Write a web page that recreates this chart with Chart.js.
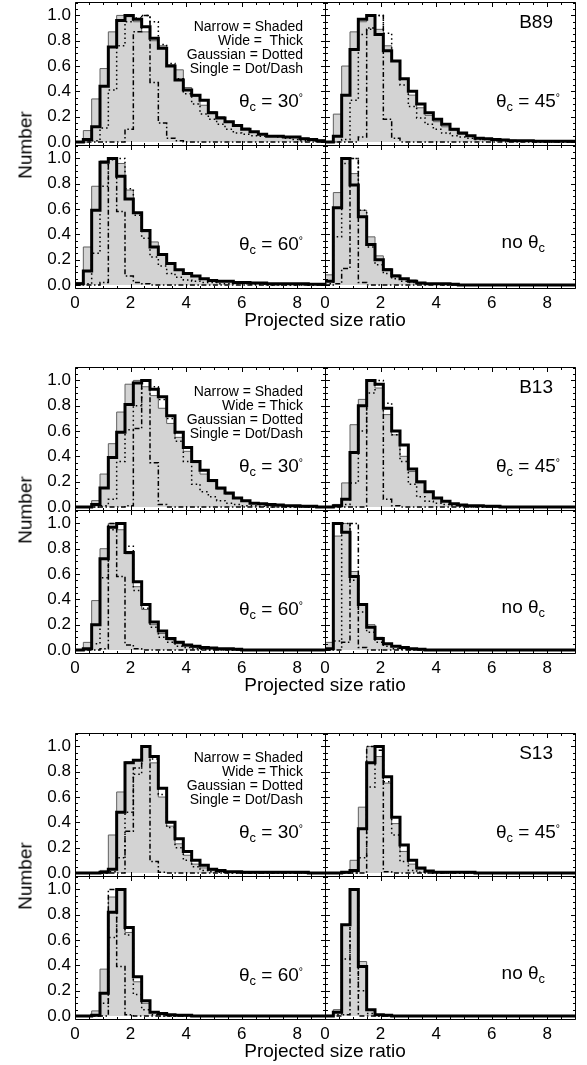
<!DOCTYPE html>
<html><head><meta charset="utf-8">
<script src="https://cdn.jsdelivr.net/npm/chart.js@4.4.1/dist/chart.umd.min.js"></script>
<style>
html,body{margin:0;padding:0;background:#fff;}
#wrap{position:relative;width:587px;height:1065px;overflow:hidden;background:#fff;font-family:"Liberation Sans",Arial,Helvetica,sans-serif;color:#000;}
#wrap canvas{position:absolute;}
.t{position:absolute;white-space:pre;line-height:1;color:#000;}
.t .sb{position:relative;top:0.3em;font-size:0.68em;}
.t .sp{position:relative;top:-0.55em;font-size:0.55em;}
</style></head><body><div id="wrap"></div>
<script>
// ---------------- data ----------------
const binEdges = [0.0,0.3,0.6,0.9,1.2,1.5,1.8,2.1,2.4,2.7,3.0,3.3,3.6,3.9,4.2,4.5,4.8,5.1,5.4,5.7,6.0,6.3,6.6,6.9,7.2,7.5,7.8,8.1,8.4,8.7,9.0];
const xTickValues = [0,2,4,6,8];
const yTickValues = [0.0,0.2,0.4,0.6,0.8,1.0];
const modelNames = ['B89','B13','S13'];
const legendLines = [
  ['Narrow = Shaded','Wide =  Thick','Gaussian = Dotted','Single = Dot/Dash'],
  ['Narrow = Shaded','Wide = Thick','Gaussian = Dotted','Single = Dot/Dash'],
  ['Narrow = Shaded','Wide = Thick','Gaussian = Dotted','Single = Dot/Dash']
];
const angleLabels = ['30','45','60',null];

// B89
const b89_30_narrow = [0,0.09,0.34,0.58,0.87,1.0,0.99,0.95,0.87,0.80, 0.76,0.61,0.57,0.43,0.36,0.29,0.24,0.20,0.16,0.13, 0.11,0.08,0.06,0.05,0.05,0.04,0.04,0.03,0.02,0.015];
const b89_30_wide   = [0,0.02,0.12,0.44,0.75,0.96,1.0,0.97,0.91,0.82, 0.74,0.60,0.49,0.41,0.37,0.33,0.23,0.19,0.16,0.13, 0.10,0.08,0.06,0.045,0.045,0.04,0.04,0.025,0.02,0.01];
const b89_30_gauss  = [0,0,0.01,0.11,0.41,0.76,0.95,0.98,1.0,0.95, 0.77,0.62,0.50,0.38,0.30,0.22,0.18,0.14,0.10,0.07, 0.06,0.05,0.045,0.045,0.04,0.03,0.02,0.01,0.01,0.005];
const b89_30_single = [0,0,0,0,0,0,0.10,0.87,1.0,0.47, 0.15,0.03,0.01,0,0,0,0,0,0,0, 0,0,0,0,0,0,0,0,0,0];

const b89_45_narrow = [0,0.22,0.60,0.87,0.95,1.0,0.89,0.76,0.64,0.50, 0.37,0.27,0.21,0.16,0.12,0.09,0.06,0.045,0.03,0.02, 0.02,0.02,0.015,0.01,0.01,0.01,0.01,0.01,0.005,0.005];
const b89_45_wide   = [0,0.045,0.37,0.73,0.97,1.0,0.85,0.72,0.64,0.50, 0.40,0.30,0.23,0.18,0.14,0.10,0.07,0.05,0.03,0.025, 0.02,0.015,0.01,0.01,0.01,0.005,0.005,0.005,0.005,0.005];
const b89_45_gauss  = [0,0,0.02,0.33,0.85,0.89,1.0,0.86,0.64,0.45, 0.28,0.19,0.14,0.10,0.07,0.05,0.04,0.03,0.02,0.02, 0.01,0.01,0.01,0.005,0.005,0,0,0,0,0];
const b89_45_single = [0,0,0,0,0.04,0.90,1.0,0.18,0.03,0, 0,0,0,0,0,0,0,0,0,0, 0,0,0,0,0,0,0,0,0,0];

const b89_60_narrow = [0.02,0.30,0.78,0.98,1.0,0.96,0.75,0.57,0.42,0.34, 0.24,0.17,0.12,0.09,0.07,0.05,0.04,0.03,0.03,0.02, 0.02,0.02,0.015,0.01,0.01,0.01,0.01,0.005,0.005,0.005];
const b89_60_wide   = [0.01,0.11,0.59,0.97,1.0,0.86,0.68,0.57,0.43,0.30, 0.24,0.17,0.12,0.09,0.07,0.05,0.035,0.03,0.03,0.02, 0.02,0.015,0.015,0.01,0.01,0.01,0.01,0.01,0.005,0.005];
const b89_60_gauss  = [0,0.01,0.25,0.78,0.99,1.0,0.76,0.55,0.37,0.22, 0.15,0.09,0.06,0.04,0.03,0.02,0.02,0.01,0.01,0.01, 0.01,0.005,0.005,0,0,0,0,0,0,0];
const b89_60_single = [0,0,0,0.02,1.0,0.58,0.07,0.02,0.01,0, 0,0,0,0,0,0,0,0,0,0, 0,0,0,0,0,0,0,0,0,0];

const b89_no_narrow = [0.08,0.73,1.0,0.88,0.59,0.38,0.23,0.13,0.08,0.05, 0.04,0.02,0.01,0.01,0.01,0.005,0,0,0,0, 0,0,0,0,0,0,0,0,0,0];
const b89_no_wide   = [0.03,0.61,1.0,0.79,0.54,0.32,0.20,0.12,0.07,0.05, 0.03,0.015,0.01,0.01,0.01,0.005,0,0,0,0, 0,0,0,0,0,0,0,0,0,0];
const b89_no_gauss  = [0.01,0.38,0.96,1.0,0.59,0.30,0.16,0.09,0.05,0.03, 0.02,0.01,0.01,0.005,0,0,0,0,0,0, 0,0,0,0,0,0,0,0,0,0];
const b89_no_single = [0,0.01,0.13,1.0,0.02,0,0,0,0,0, 0,0,0,0,0,0,0,0,0,0, 0,0,0,0,0,0,0,0,0,0];

// B13
const b13_30_narrow = [0,0,0.05,0.26,0.50,0.75,0.97,1.0,0.95,0.88, 0.78,0.66,0.55,0.44,0.35,0.26,0.20,0.14,0.10,0.07, 0.05,0.03,0.02,0.015,0.01,0.01,0.005,0.005,0,0];
const b13_30_wide   = [0,0,0.02,0.15,0.39,0.59,0.81,0.98,1.0,0.93, 0.87,0.72,0.59,0.47,0.36,0.29,0.21,0.15,0.11,0.07, 0.05,0.03,0.025,0.02,0.015,0.01,0.01,0.005,0.005,0];
const b13_30_gauss  = [0,0,0,0.01,0.06,0.36,0.61,0.80,1.0,0.95, 0.85,0.70,0.52,0.36,0.18,0.12,0.08,0.05,0.03,0.02, 0.01,0.01,0.005,0,0,0,0,0,0,0];
const b13_30_single = [0,0,0,0,0,0,0.01,0.62,1.0,0.35, 0.02,0,0,0,0,0,0,0,0,0, 0,0,0,0,0,0,0,0,0,0];

const b13_45_narrow = [0,0.02,0.19,0.65,0.85,1.0,0.94,0.73,0.57,0.40, 0.28,0.19,0.12,0.07,0.045,0.025,0.015,0.01,0.01,0.005, 0,0,0,0,0,0,0,0,0,0];
const b13_45_wide   = [0,0.01,0.06,0.43,0.80,1.0,0.97,0.78,0.60,0.49, 0.30,0.20,0.12,0.07,0.045,0.025,0.015,0.01,0.01,0.005, 0.005,0,0,0,0,0,0,0,0,0];
const b13_45_gauss  = [0,0,0.02,0.19,0.60,0.90,1.0,0.82,0.57,0.36, 0.18,0.08,0.045,0.03,0.02,0.01,0.005,0,0,0, 0,0,0,0,0,0,0,0,0,0];
const b13_45_single = [0,0,0,0,0,1.0,0.97,0.06,0.01,0, 0,0,0,0,0,0,0,0,0,0, 0,0,0,0,0,0,0,0,0,0];

const b13_60_narrow = [0,0.06,0.39,0.80,1.0,0.95,0.76,0.50,0.32,0.20, 0.13,0.08,0.05,0.03,0.02,0.01,0.01,0.005,0,0, 0,0,0,0,0,0,0,0,0,0];
const b13_60_wide   = [0,0.01,0.20,0.72,0.97,1.0,0.77,0.54,0.36,0.22, 0.15,0.09,0.06,0.04,0.03,0.02,0.015,0.01,0.01,0.005, 0,0,0,0,0,0,0,0,0,0];
const b13_60_gauss  = [0,0,0.05,0.57,0.95,1.0,0.82,0.47,0.33,0.18, 0.10,0.06,0.03,0.02,0.01,0.005,0,0,0,0, 0,0,0,0,0,0,0,0,0,0];
const b13_60_single = [0,0,0,0.01,1.0,0.58,0.04,0.01,0,0, 0,0,0,0,0,0,0,0,0,0, 0,0,0,0,0,0,0,0,0,0];

const b13_no_narrow = [0.06,0.90,1.0,0.62,0.36,0.20,0.10,0.05,0.03,0.02, 0.01,0.005,0,0,0,0,0,0,0,0, 0,0,0,0,0,0,0,0,0,0];
const b13_no_wide   = [0.01,1.0,0.93,0.58,0.36,0.18,0.09,0.05,0.03,0.02, 0.01,0.005,0,0,0,0,0,0,0,0, 0,0,0,0,0,0,0,0,0,0];
const b13_no_gauss  = [0,0.07,1.0,0.55,0.30,0.14,0.06,0.03,0.01,0.005, 0,0,0,0,0,0,0,0,0,0, 0,0,0,0,0,0,0,0,0,0];
const b13_no_single = [0,0,0.06,1.0,0.02,0,0,0,0,0, 0,0,0,0,0,0,0,0,0,0, 0,0,0,0,0,0,0,0,0,0];

// S13
const s13_30_narrow = [0,0,0,0.02,0.30,0.64,0.88,0.89,1.0,0.87, 0.60,0.37,0.23,0.14,0.07,0.04,0.02,0.01,0.01,0.005, 0,0,0,0,0,0,0,0,0,0];
const s13_30_wide   = [0,0,0,0.005,0.03,0.48,0.87,0.89,1.0,0.92, 0.67,0.40,0.27,0.17,0.10,0.06,0.03,0.02,0.01,0.01, 0.005,0.005,0.005,0.005,0.005,0.005,0.005,0.005,0,0];
const s13_30_gauss  = [0,0,0,0,0.01,0.12,0.48,0.78,1.0,0.90, 0.62,0.36,0.20,0.10,0.05,0.02,0.01,0.005,0,0, 0,0,0,0,0,0,0,0,0,0];
const s13_30_single = [0,0,0,0,0,0,0.33,0.83,1.0,0.09, 0.005,0,0,0,0,0,0,0,0,0, 0,0,0,0,0,0,0,0,0,0];

const s13_45_narrow = [0,0,0,0.10,0.52,1.0,0.92,0.71,0.39,0.17, 0.07,0.03,0.01,0.005,0.005,0.005,0.005,0,0,0, 0,0,0,0,0,0,0,0,0,0];
const s13_45_wide   = [0,0,0.005,0.02,0.35,0.87,1.0,0.76,0.44,0.22, 0.10,0.04,0.015,0.005,0.005,0.005,0.005,0.005,0,0, 0,0,0,0,0,0,0,0,0,0];
const s13_45_gauss  = [0,0,0,0,0.12,0.68,1.0,0.72,0.30,0.09, 0.02,0.005,0,0,0,0,0,0,0,0, 0,0,0,0,0,0,0,0,0,0];
const s13_45_single = [0,0,0,0,0,1.0,0.97,0.01,0,0, 0,0,0,0,0,0,0,0,0,0, 0,0,0,0,0,0,0,0,0,0];

const s13_60_narrow = [0,0,0.04,0.37,0.94,1.0,0.66,0.27,0.10,0.03, 0.02,0.01,0.005,0,0,0,0,0,0,0, 0,0,0,0,0,0,0,0,0,0];
const s13_60_wide   = [0,0,0.005,0.18,0.82,1.0,0.70,0.31,0.12,0.03, 0.02,0.01,0.005,0.005,0,0,0,0,0,0, 0,0,0,0,0,0,0,0,0,0];
const s13_60_gauss  = [0,0,0,0.10,0.62,1.0,0.64,0.17,0.05,0.01, 0,0,0,0,0,0,0,0,0,0, 0,0,0,0,0,0,0,0,0,0];
const s13_60_single = [0,0,0,0,1.0,0.39,0.01,0,0,0, 0,0,0,0,0,0,0,0,0,0, 0,0,0,0,0,0,0,0,0,0];

const s13_no_narrow = [0.005,0.05,0.72,1.0,0.43,0.05,0.01,0.005,0,0, 0,0,0,0,0,0,0,0,0,0, 0,0,0,0,0,0,0,0,0,0];
const s13_no_wide   = [0,0.03,0.72,1.0,0.39,0.05,0.01,0.005,0,0, 0,0,0,0,0,0,0,0,0,0, 0,0,0,0,0,0,0,0,0,0];
const s13_no_gauss  = [0,0.01,0.45,1.0,0.20,0.02,0,0,0,0, 0,0,0,0,0,0,0,0,0,0, 0,0,0,0,0,0,0,0,0,0];
const s13_no_single = [0,0,0.01,1.0,0,0,0,0,0,0, 0,0,0,0,0,0,0,0,0,0, 0,0,0,0,0,0,0,0,0,0];

// ---------------- layout ----------------
const groupTops = [2, 367, 733];
const PH = 143, PW = 250;
const colLefts = [75, 325];
const PADT = 22, PADR = 8, YW = 75, XH = 45;
const FONT = '"Liberation Sans", Arial, Helvetica, sans-serif';

const panelSeries = [
  [ [b89_30_narrow,b89_30_wide,b89_30_gauss,b89_30_single],
    [b89_45_narrow,b89_45_wide,b89_45_gauss,b89_45_single],
    [b89_60_narrow,b89_60_wide,b89_60_gauss,b89_60_single],
    [b89_no_narrow,b89_no_wide,b89_no_gauss,b89_no_single] ],
  [ [b13_30_narrow,b13_30_wide,b13_30_gauss,b13_30_single],
    [b13_45_narrow,b13_45_wide,b13_45_gauss,b13_45_single],
    [b13_60_narrow,b13_60_wide,b13_60_gauss,b13_60_single],
    [b13_no_narrow,b13_no_wide,b13_no_gauss,b13_no_single] ],
  [ [s13_30_narrow,s13_30_wide,s13_30_gauss,s13_30_single],
    [s13_45_narrow,s13_45_wide,s13_45_gauss,s13_45_single],
    [s13_60_narrow,s13_60_wide,s13_60_gauss,s13_60_single],
    [s13_no_narrow,s13_no_wide,s13_no_gauss,s13_no_single] ]
];

function steps(vals){
  const pts = vals.map((v,i)=>({x:binEdges[i], y:v}));
  pts.push({x:binEdges[vals.length], y:vals[vals.length-1]});
  return pts;
}

const frameTicks = {
  id:'frameTicks',
  afterDatasetsDraw(chart){
    const {ctx, chartArea:a, scales:{x,y}} = chart;
    const L = Math.round(a.left)+0.5, R = Math.round(a.right)+0.5;
    const T = Math.round(a.top)+0.5, B = Math.round(a.bottom)+0.5;
    ctx.save();
    ctx.strokeStyle = '#000'; ctx.lineWidth = 1;
    ctx.beginPath();
    ctx.rect(L, T, R-L, B-T);
    const maj = 4.5, mnr = 2.5;
    for (let v = x.min; v <= x.max + 1e-9; v += 0.5) {
      const px = Math.round(x.getPixelForValue(v)) + 0.5;
      const len = (Math.abs(v/2 - Math.round(v/2)) < 1e-6) ? maj : mnr;
      ctx.moveTo(px, B); ctx.lineTo(px, B - len);
      ctx.moveTo(px, T); ctx.lineTo(px, T + len);
    }
    for (let k = 0; k <= 22; k++) {
      const v = k*0.05;
      if (v > y.max) break;
      const py = Math.round(y.getPixelForValue(v)) + 0.5;
      const len = (k % 4 === 0) ? maj : mnr;
      ctx.moveTo(L, py); ctx.lineTo(L + len, py);
      ctx.moveTo(R, py); ctx.lineTo(R - len, py);
    }
    ctx.stroke();
    ctx.restore();
  }
};

const wrap = document.getElementById('wrap');

function addText(html, opts){
  const d = document.createElement('div');
  d.className = 't';
  d.innerHTML = html;
  d.style.fontSize = opts.size + 'px';
  d.style.top = (opts.baseline - 0.8465*opts.size) + 'px';
  if (opts.right !== undefined) { d.style.right = (587 - opts.right) + 'px'; d.style.textAlign = 'right'; }
  if (opts.center !== undefined) { d.style.left = opts.center + 'px'; d.style.transform = 'translateX(-50%)'; }
  wrap.appendChild(d);
  return d;
}

for (let g = 0; g < 3; g++) {
  for (let p = 0; p < 4; p++) {
    const row = p < 2 ? 0 : 1, col = p % 2;
    const top = groupTops[g] + row*PH;
    const left = colLefts[col];
    const cv = document.createElement('canvas');
    const W = YW + PW + PADR, H = PADT + PH + XH;
    cv.width = W; cv.height = H;
    cv.style.width = W + 'px'; cv.style.height = H + 'px';
    cv.style.left = (left - YW) + 'px';
    cv.style.top = (top - PADT) + 'px';
    wrap.appendChild(cv);
    const s = panelSeries[g][p];
    new Chart(cv, {
      type: 'line',
      data: { datasets: [
        { label:'Narrow', data: steps(s[0]), stepped:true, fill:'origin', backgroundColor:'#d3d3d3', borderColor:'#606060', borderWidth:1, pointRadius:0, order:4 },
        { label:'Wide', data: steps(s[1]), stepped:true, fill:false, borderColor:'#000', borderWidth:3, pointRadius:0, order:3 },
        { label:'Gaussian', data: steps(s[2]), stepped:true, fill:false, borderColor:'#000', borderWidth:1.5, borderDash:[1.5,3], pointRadius:0, order:2 },
        { label:'Single', data: steps(s[3]), stepped:true, fill:false, borderColor:'#000', borderWidth:1.5, borderDash:[5,2.5,1.5,2.5], pointRadius:0, order:1 }
      ]},
      options: {
        responsive:false, animation:false, devicePixelRatio:1,
        layout:{ padding:{ top:PADT, right:PADR, left:0, bottom:0 } },
        plugins:{ legend:{display:false}, tooltip:{enabled:false} },
        scales:{
          x:{ type:'linear', position:'bottom', min:0, max:9,
              afterBuildTicks: sc => { sc.ticks = xTickValues.map(v=>({value:v})); },
              afterFit: sc => { sc.height = XH; },
              grid:{ display:false, drawTicks:false, tickLength:0 }, border:{ display:false },
              ticks:{ display: row===1, padding:5, autoSkip:false, maxRotation:0, color:'#000', font:{ size:17, family:FONT } } },
          y:{ type:'linear', position:'left', min:-0.024, max:1.106,
              afterBuildTicks: sc => { sc.ticks = yTickValues.map(v=>({value:v})); },
              afterFit: sc => { sc.width = YW; },
              grid:{ display:false, drawTicks:false, tickLength:0 }, border:{ display:false },
              ticks:{ display: col===0, padding:4, color:'#000', font:{ size:17, family:FONT }, callback: v => Number(v).toFixed(1) } }
        }
      },
      plugins:[frameTicks]
    });

    // panel annotations
    if (p === 0) {
      legendLines[g].forEach((txt,i) => addText(txt, {size:14, right:303, baseline: top + 28.7 + i*14}));
    }
    if (p === 1) {
      addText(modelNames[g], {size:19, right:553, baseline: top + 26.5});
    }
    if (angleLabels[p]) {
      addText('θ<span class="sb">c</span> = ' + angleLabels[p] + '<span class="sp">°</span>', {size:19, right: col===0 ? 303 : 560, baseline: top + 105});
    } else {
      addText('no θ<span class="sb">c</span>', {size:19, right:545, baseline: top + 103});
    }
  }
  // y-axis title
  const n = document.createElement('div');
  n.className = 't';
  n.textContent = 'Number';
  n.style.fontSize = '19px';
  n.style.left = '25px';
  n.style.top = (groupTops[g] + PH) + 'px';
  n.style.transform = 'translate(-50%,-50%) rotate(-90deg)';
  wrap.appendChild(n);
  // x-axis title
  addText('Projected size ratio', {size:19, center:325, baseline: groupTops[g] + 2*PH + 38.5});
}
</script></body></html>
